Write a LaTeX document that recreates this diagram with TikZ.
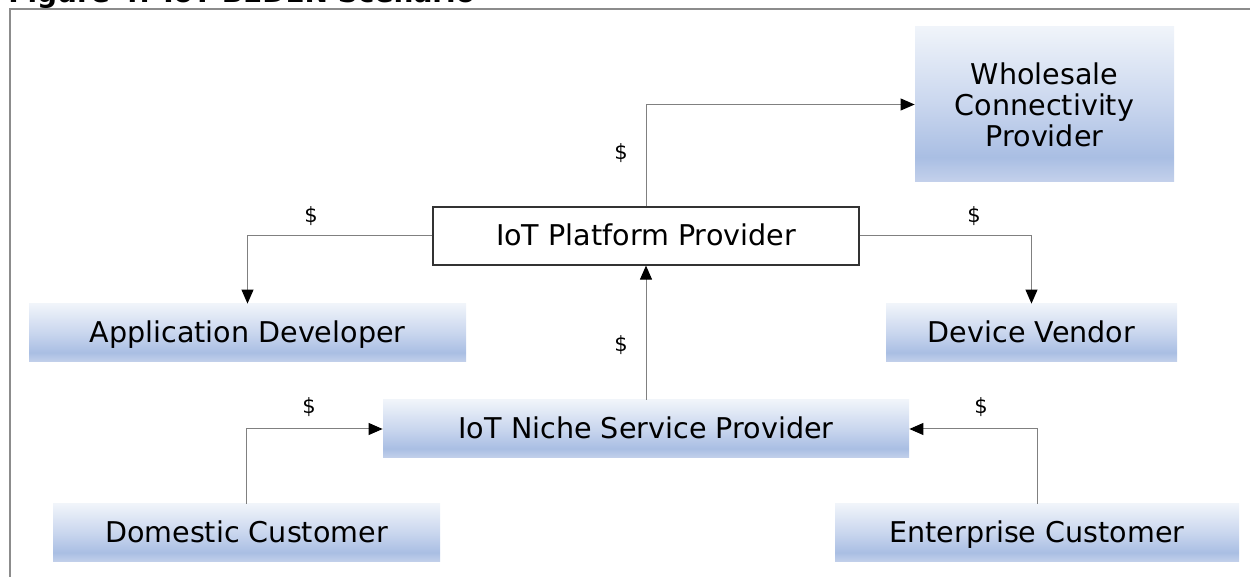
\documentclass[tikz,border=0pt]{standalone}
\usepackage{fontspec}
\setmainfont{DejaVu Sans}
\usetikzlibrary{arrows.meta}
\definecolor{shTop}{HTML}{F0F4FA}
\definecolor{shMid}{HTML}{C9D6EE}
\definecolor{shDark}{HTML}{A9BEE3}
\definecolor{shBot}{HTML}{C4D1EB}
\definecolor{frameGray}{HTML}{8C8C8C}
\definecolor{lineGray}{HTML}{808080}
% vertical blue gradient used for the role boxes (path spans 25bp..75bp)
\pgfdeclareverticalshading{rolebox}{100bp}{color(0bp)=(shBot); color(25bp)=(shBot); color(33bp)=(shDark); color(50bp)=(shMid); color(75bp)=(shTop); color(100bp)=(shTop)}
\begin{document}
\begin{tikzpicture}[x=0.5pt,y=-0.5pt,
  every node/.style={font=\fontsize{14.3}{15.5}\selectfont},
  role/.style={rectangle, inner sep=0pt, shading=rolebox, draw=none, align=center},
  oneline/.style={text height=13pt, text depth=3pt},
  platform/.style={rectangle, inner sep=0pt, draw=black!80, line width=0.6pt, fill=white},
  money/.style={font=\fontsize{10.5}{12}\selectfont, inner sep=0pt},
  flow/.style={draw=lineGray, line width=0.5pt, -{Triangle[length=7pt,width=6pt,color=black]}}
]
\useasboundingbox (0,0) rectangle (1250,577);
\begin{scope}
  \clip (0,0) rectangle (1250,577);
  \node[anchor=base west, inner sep=0pt, font=\fontsize{14}{16}\bfseries] (title) at (8,3) {Figure 4: IoT BEDEN Scenario};
  \draw[frameGray, line width=1pt] (10,600) -- (10,9) -- (1270,9);
\end{scope}

% roles
\node[role, minimum width=129.5pt, minimum height=77.5pt] (wcp) at (1044.5,104.5) {Wholesale\\Connectivity\\Provider};
\node[platform, oneline, minimum width=213pt, minimum height=29pt] (ipp) at (646,236) {IoT Platform Provider};
\node[role, oneline, minimum width=218.5pt, minimum height=29pt] (ad) at (247.5,333) {Application Developer};
\node[role, oneline, minimum width=145.5pt, minimum height=29pt] (dv) at (1031.5,333) {Device Vendor};
\node[role, oneline, minimum width=263pt, minimum height=29pt] (nsp) at (646,429) {IoT Niche Service Provider};
\node[role, oneline, minimum width=193.5pt, minimum height=29pt] (dc) at (246.5,533) {Domestic Customer};
\node[role, oneline, minimum width=202pt, minimum height=29pt] (ec) at (1037,533) {Enterprise Customer};

% payment flows
\draw[flow] (ipp.north) |- (wcp.west);
\draw[flow] (ipp.west) -| (ad.north);
\draw[flow] (ipp.east) -| (dv.north);
\draw[flow] (nsp.north) -- (ipp.south);
\draw[flow] (dc.north) |- (nsp.west);
\draw[flow] (ec.north) |- (nsp.east);

% payment labels
\node[money] (m1) at (621,153) {\$};
\node[money] (m2) at (311,216) {\$};
\node[money] (m3) at (974,216) {\$};
\node[money] (m4) at (621,345) {\$};
\node[money] (m5) at (309,407) {\$};
\node[money] (m6) at (981,407) {\$};
\end{tikzpicture}
\end{document}
